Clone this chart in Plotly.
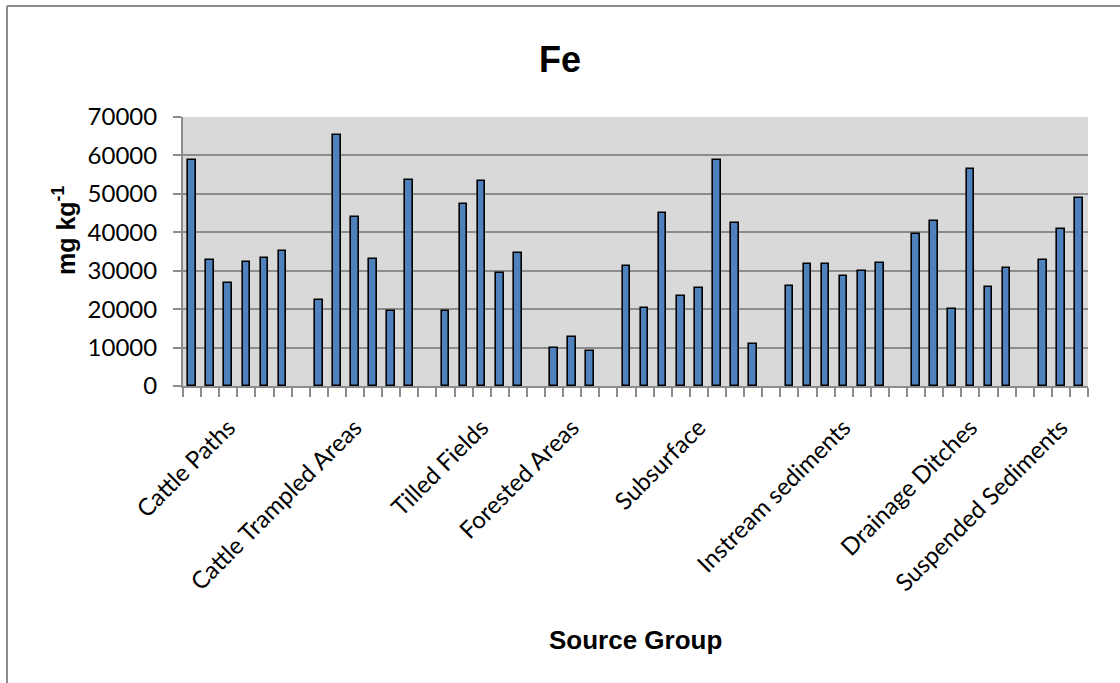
import plotly.graph_objects as go

# Fe concentration (mg/kg) by source group
groups = ["Cattle Paths", "Cattle Trampled Areas", "Tilled Fields", "Forested Areas",
          "Subsurface", "Instream sediments", "Drainage Ditches", "Suspended Sediments"]
cattle_paths = [58800, 32900, 26750, 32200, 33250, 35100]
cattle_trampled = [22400, 65200, 44000, 33100, 19450, 53500]
tilled_fields = [19450, 47300, 53300, 29500, 34550]
forested_areas = [10000, 12700, 9100]
subsurface = [31350, 20300, 45000, 23450, 25450, 58700, 42450, 11000]
instream_sediments = [26050, 31800, 31800, 28500, 29800, 32050]
drainage_ditches = [39600, 43000, 20050, 56450, 25700, 30800]
suspended_sediments = [32750, 40800, 48800]
# which sample within each group carries the group name on the axis
label_sample = [2, 2, 2, 1, 4, 3, 3, 1]
y_ticks = [0, 10000, 20000, 30000, 40000, 50000, 60000, 70000]

series = [cattle_paths, cattle_trampled, tilled_fields, forested_areas,
          subsurface, instream_sediments, drainage_ditches, suspended_sediments]

# lay the samples out on one category axis, one empty slot between groups
xs, ys, label_pos = [], [], []
slot = 0
for vals, lab in zip(series, label_sample):
    label_pos.append(slot + lab)
    for v in vals:
        xs.append(slot)
        ys.append(v)
        slot += 1
    slot += 1
n_slots = slot - 1

GRID = "#8c8c8c"
W, H = 1120, 683
L, R, T, B = 183, 32, 117, 297
pw, ph = W - L - R, H - T - B

fig = go.Figure(go.Bar(
    x=xs, y=ys, width=0.42,
    marker=dict(color="#4f81bd", line=dict(color="#000000", width=1.6)),
    showlegend=False,
))

fig.update_layout(
    width=W, height=H,
    margin=dict(l=L, r=R, t=T, b=B),
    paper_bgcolor="white",
    plot_bgcolor="#d9d9d9",
    title=dict(text="<b>Fe</b>", x=0.5, xref="container", xanchor="center",
               y=1 - 59 / H, yref="container", yanchor="middle",
               font=dict(family="Liberation Sans, Arial", size=36, color="black")),
    bargap=0,
)

fig.update_xaxes(
    range=[-0.5, n_slots - 0.5],
    tickmode="array", tickvals=label_pos, ticktext=groups,
    tickangle=-45, ticks="", ticklabelstandoff=16,
    tickfont=dict(family="Lato", size=24, color="black"),
    showgrid=False, zeroline=False,
    showline=True, linecolor=GRID, linewidth=2,
    minor=dict(ticks="outside", ticklen=9, tickwidth=2, tickcolor=GRID,
               tick0=-0.5, dtick=1, showgrid=False),
)

fig.update_yaxes(
    range=[0, 70000],
    tickmode="array", tickvals=y_ticks, ticktext=[str(v) for v in y_ticks],
    ticks="outside", ticklen=8, tickwidth=2, tickcolor=GRID,
    ticklabelstandoff=11,
    tickfont=dict(family="Lato", size=24, color="black"),
    showgrid=True, gridcolor=GRID, gridwidth=2,
    zeroline=False, showline=True, linecolor=GRID, linewidth=2,
)

# axis titles
fig.add_annotation(
    text="<b>Source Group</b>", xref="paper", yref="paper",
    x=0.5, y=-(640 - (T + ph)) / ph, xanchor="center", yanchor="middle",
    showarrow=False, font=dict(family="Liberation Sans, Arial", size=26, color="black"),
)
fig.add_annotation(
    text="<b>mg kg<sup>-1</sup></b>", xref="paper", yref="paper",
    x=(64 - L) / pw, y=(T + ph - 231) / ph, xanchor="center", yanchor="middle",
    textangle=-90, showarrow=False,
    font=dict(family="Liberation Sans, Arial", size=25, color="black"),
)

# chart frame (left and top edges)
def px_x(p):
    return (p - L) / pw

def px_y(p):
    return (T + ph - p) / ph

fig.add_shape(type="line", xref="paper", yref="paper",
              x0=px_x(7), x1=px_x(7), y0=px_y(6), y1=px_y(H + 5),
              line=dict(color=GRID, width=2))
fig.add_shape(type="line", xref="paper", yref="paper",
              x0=px_x(7), x1=px_x(W + 5), y0=px_y(6), y1=px_y(6),
              line=dict(color=GRID, width=2))

fig.write_html("out.html")
